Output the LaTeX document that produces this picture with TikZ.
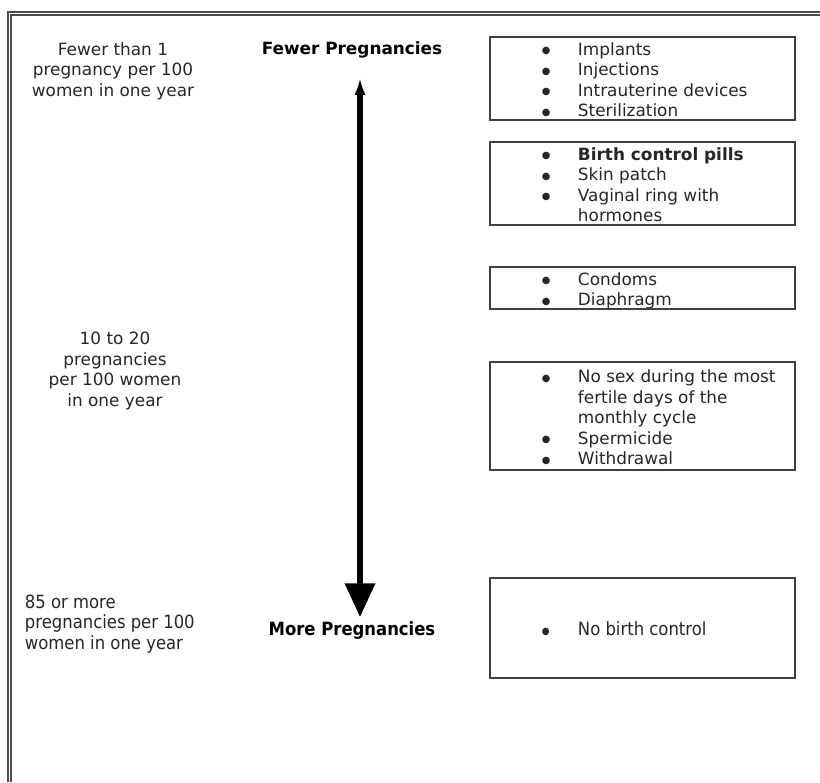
\documentclass[tikz,border=0pt]{standalone}
\usepackage{fontspec}
\setmainfont{DejaVu Sans}
\newfontfamily\narrowfont{DejaVu Sans Condensed}
\usepackage{array}
\usetikzlibrary{arrows.meta}

\newcommand{\blt}{\raisebox{1pt}{\fontsize{7}{7}\selectfont ●}}
\newcommand{\methods}[1]{\raisebox{-2.5pt}[\height][\depth]{\begin{tabular}{@{\hspace{1.3cm}}p{0.9cm}@{}p{5.425cm}@{}}#1\end{tabular}}}

\begin{document}
\begin{tikzpicture}[x=0.025cm, y=-0.025cm,
    every node/.style={text=black!85, font=\fontsize{12}{14.6}\selectfont},
    rate/.style={align=center},
    heading/.style={font=\fontsize{12}{14.6}\selectfont\bfseries, text=black},
    group/.style={draw=black!75, line width=1pt, inner sep=0pt, minimum height=#1}]
    \useasboundingbox (0,0) rectangle (820,782);

    % Page frame
    \draw[draw=black!70, double=white, line width=0.8pt, double distance=1.4pt] (9.5,782) -- (9.5,13.5) -- (820,13.5);

    % Rates on the left
    \node[rate] (rateLow) at (113,71) {Fewer than 1\\pregnancy per 100\\women in one year};
    \node[rate] (rateMid) at (115,371) {10 to 20\\pregnancies\\per 100 women\\in one year};
    \node[align=left, anchor=west, font=\narrowfont\fontsize{13}{14.6}\selectfont] (rateHigh) at (20,624) {85 or more\\pregnancies per 100\\women in one year};

    % Scale
    \node[heading] (fewer) at (352,50) {Fewer Pregnancies};
    \node[heading, font=\narrowfont\fontsize{13}{14.6}\selectfont\bfseries] (more) at (352,631) {More Pregnancies};
    \coordinate (tipUp) at (360,78);
    \coordinate (tipDown) at (360,617);
    \draw[line width=3.8pt, {Latex[length=12pt,width=8pt]}-{Triangle[length=24pt,width=21pt]}] (tipUp) -- (tipDown);

    % Methods on the right
    \node[group=2.075cm] (tierA) at (642.5,78.5) {\methods{\blt & Implants\\ \blt & Injections\\ \blt & Intrauterine devices\\ \blt & Sterilization}};
    \node[group=2.075cm] (tierB) at (642.5,183.5) {\methods{\blt & \textbf{Birth control pills}\\ \blt & Skin patch\\ \blt & Vaginal ring with\\ & hormones}};
    \node[group=1.05cm] (tierC) at (642.5,288) {\methods{\blt & Condoms\\ \blt & Diaphragm}};
    \node[group=2.7cm] (tierD) at (642.5,416) {\methods{\blt & No sex during the most\\ & fertile days of the\\ & monthly cycle\\ \blt & Spermicide\\ \blt & Withdrawal}};
    \node[group=2.5cm, font=\narrowfont\fontsize{13}{14.6}\selectfont] (tierE) at (642.5,628) {\methods{\blt & No birth control}};
\end{tikzpicture}
\end{document}
